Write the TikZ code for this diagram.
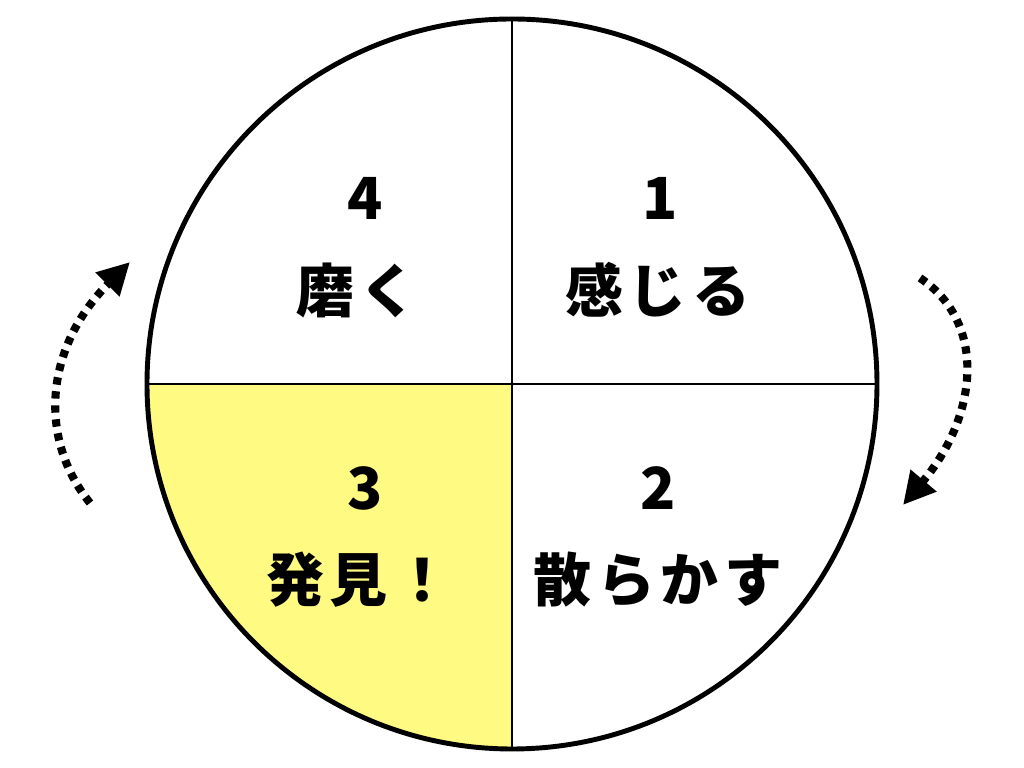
\documentclass[tikz,border=0pt]{standalone}
\usepackage{fontspec}
\setmainfont{Noto Sans CJK JP}
\usepackage{tikz}
\usetikzlibrary{arrows.meta}

\definecolor{lemon}{RGB}{255,250,130}

\begin{document}
\begin{tikzpicture}[
    rim/.style={line width=2.8pt},
    quad/.style={line width=1.1pt},
    lbl/.style={font=\fontsize{33}{36}\selectfont\bfseries\addfontfeatures{LetterSpace=10}},
    cyc/.style={line width=4.6pt,dash pattern=on 4.2pt off 3.8pt,
      -{Triangle[length=0.64cm,width=0.64cm]}},
    node distance=1.84cm]
      \useasboundingbox (0,0) rectangle (20.48,15.36);
      \coordinate (c) at (10.24,7.68);

      % quadrant 3 is highlighted
      \fill[lemon] (c) -- ++(180:7.3) arc (180:270:7.3) -- cycle;
      \draw[quad] (c) ++(0,7.3) -- ++(0,-14.6);
      \draw[quad] (c) ++(-7.3,0) -- ++(14.6,0);
      \draw[rim] (c) circle (7.3);

      \node[lbl] (1) at (13.2,11.4) {1};
      \node[lbl,below of=1,xshift=-0.04cm] (1t) {感じる};
      \node[lbl] (2) at (13.16,5.6) {2};
      \node[lbl,below of=2] (2t) {散らかす};
      \node[lbl] (3) at (7.3,5.6) {3};
      \node[lbl,below of=3,xshift=-0.12cm] (3t) {発見！};
      \node[lbl] (4) at (7.3,11.4) {4};
      \node[lbl,below of=4,xshift=-0.16cm] (4t) {磨く};

      % turning arrows
      \coordinate (l0) at (1.8,5.3);
      \coordinate (l1) at (2.6,10.12);
      \coordinate (r0) at (18.4,9.8);
      \coordinate (r1) at (18.06,5.26);
      \draw[cyc] (l0) .. controls (0.75,6.6) and (0.9,8.42) .. (l1);
      \draw[cyc] (r0) .. controls (19.75,8.9) and (19.56,7.04) .. (r1);
    \end{tikzpicture}
\end{document}
